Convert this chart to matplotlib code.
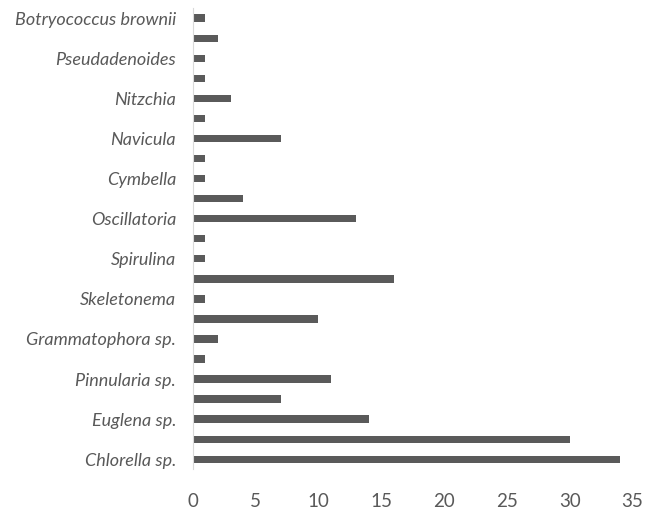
import matplotlib
matplotlib.use("Agg")
import matplotlib.pyplot as plt

# species counts, listed bottom to top; every other category label is hidden
species = [
    "Chlorella sp.", "", "Euglena sp.", "", "Pinnularia sp.", "",
    "Grammatophora sp.", "", "Skeletonema", "", "Spirulina", "",
    "Oscillatoria", "", "Cymbella", "", "Navicula", "", "Nitzchia", "",
    "Pseudadenoides", "", "Botryococcus brownii",
]
counts = [34, 30, 14, 7, 11, 1, 2, 10, 1, 16, 1, 1, 13, 4, 1, 1, 7, 1, 3, 1, 1, 2, 1]
xticks = [0, 5, 10, 15, 20, 25, 30, 35]

text_color = "#595959"
plt.rcParams["font.family"] = ["Lato", "DejaVu Sans"]

fig = plt.figure(figsize=(6.56, 5.09), dpi=100)
ax = fig.add_axes([0.294, 0.078, 0.67, 0.906])

pos = range(len(counts))
ax.barh(pos, counts, height=0.37, color="#5a5a5a")

ax.set_xlim(0, 35)
ax.set_ylim(-0.5, len(counts) - 0.5)
ax.set_xticks(xticks)
ax.set_xticklabels([str(t) for t in xticks], fontsize=13.5, color=text_color)
ax.set_yticks(list(pos))
ax.set_yticklabels(species, fontsize=13, color=text_color, style="italic")
ax.tick_params(axis="both", length=0)
ax.tick_params(axis="x", pad=17)
ax.tick_params(axis="y", pad=12)

for side in ["top", "right", "bottom"]:
    ax.spines[side].set_visible(False)
ax.spines["left"].set_color("#d9d9d9")

fig.savefig("out.png", dpi=100)
